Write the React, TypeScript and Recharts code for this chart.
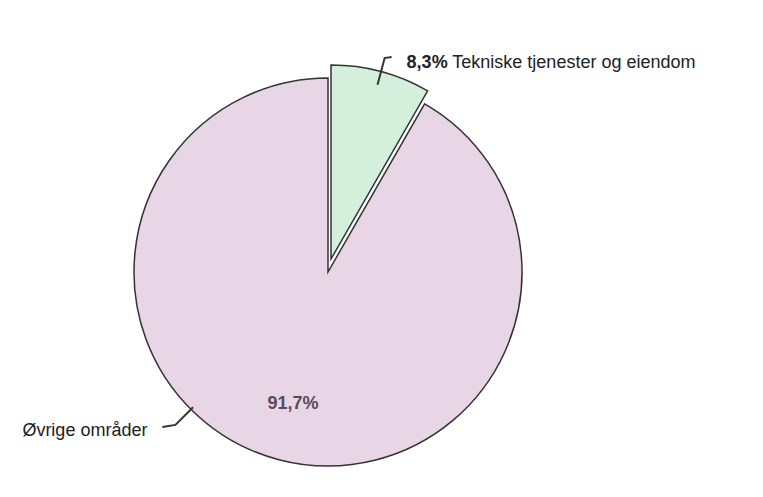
import { PieChart, Pie, Cell } from 'recharts'

const names = ['Tekniske tjenester og eiendom', 'Øvrige områder']
const values = [8.3, 91.7]
const fills = ['#d4f0dc', '#e8d6e7']

const data = names.map((name, i) => ({ name, value: values[i] }))

const RADIAN = Math.PI / 180
const FONT = '"Liberation Sans", Arial, sans-serif'

function polar(cx: number, cy: number, r: number, angle: number) {
  return { x: cx + r * Math.cos(-angle * RADIAN), y: cy + r * Math.sin(-angle * RADIAN) }
}

function fmt(v: number) {
  return v.toFixed(1).replace('.', ',') + '%'
}

// big slice: inner percentage + outside name, label pushed down-left
function BigLabel(props: any) {
  const { cx, cy, midAngle, outerRadius, index, name, value } = props
  if (index !== 1) return null
  const inner = polar(cx, cy, outerRadius * 0.7, midAngle)
  const a = midAngle - 30
  const s = polar(cx, cy, outerRadius - 3, a)
  const e = polar(cx, cy, outerRadius + 22, a)
  return (
    <g>
      <text x={inner.x} y={inner.y} textAnchor="middle" dominantBaseline="central" fill="#5a4a5a" fontWeight="bold" fontSize={18} fontFamily={FONT}>
        {fmt(value)}
      </text>
      <polyline points={`${s.x},${s.y} ${e.x},${e.y} ${e.x - 13},${e.y + 2}`} fill="none" stroke="#333" strokeWidth={2} />
      <text x={e.x - 28} y={e.y + 5} textAnchor="end" dominantBaseline="central" fill="#222" fontSize={18} fontFamily={FONT}>
        {name}
      </text>
    </g>
  )
}

// small slice is pulled out, name + percentage outside
function SmallLabel(props: any) {
  const { cx, cy, midAngle, outerRadius, index, name, value } = props
  if (index !== 0) return null
  const s = polar(cx, cy, outerRadius * 0.93, midAngle)
  const e = polar(cx, cy, outerRadius + 14, midAngle)
  return (
    <g>
      <polyline points={`${s.x},${s.y} ${e.x},${e.y} ${e.x + 7},${e.y - 1}`} fill="none" stroke="#333" strokeWidth={2} />
      <text x={e.x + 22} y={e.y + 4} dominantBaseline="central" fill="#222" fontSize={18} fontFamily={FONT}>
        <tspan fontWeight="bold">{fmt(value)}</tspan> {name}
      </text>
    </g>
  )
}

export default function App() {
  return (
    <div style={{ position: 'absolute', left: 0, top: 0, background: '#fff' }}>
      <PieChart width={763} height={497} margin={{ top: 0, right: 0, bottom: 0, left: 0 }}>
        <Pie
          data={data}
          dataKey="value"
          nameKey="name"
          cx={328}
          cy={272}
          outerRadius={194}
          startAngle={90}
          endAngle={-270}
          label={BigLabel}
          labelLine={false}
          isAnimationActive={false}
        >
          {data.map((d, i) => (
            <Cell key={d.name} fill={i === 1 ? fills[1] : 'none'} stroke={i === 1 ? '#333' : 'none'} strokeWidth={1.5} />
          ))}
        </Pie>
        <Pie
          data={data}
          dataKey="value"
          nameKey="name"
          cx={331}
          cy={259}
          outerRadius={194}
          startAngle={90}
          endAngle={-270}
          label={SmallLabel}
          labelLine={false}
          isAnimationActive={false}
        >
          {data.map((d, i) => (
            <Cell key={d.name} fill={i === 0 ? fills[0] : 'none'} stroke={i === 0 ? '#333' : 'none'} strokeWidth={1.5} />
          ))}
        </Pie>
      </PieChart>
    </div>
  )
}
